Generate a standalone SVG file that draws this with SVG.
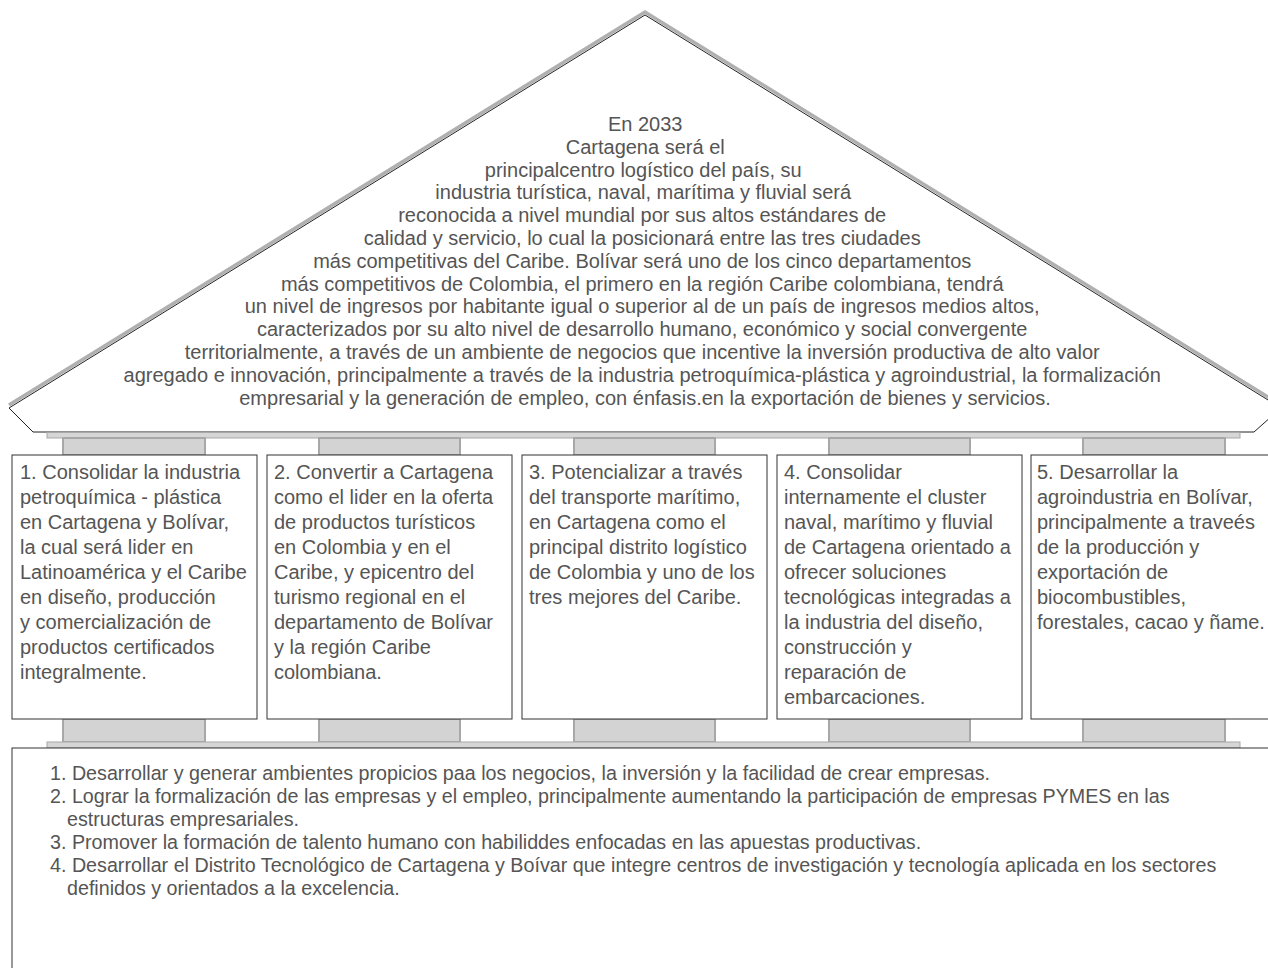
<svg xmlns="http://www.w3.org/2000/svg" width="1268" height="968" viewBox="0 0 1268 968">
<style>
.t{font-family:"Liberation Sans",Arial,sans-serif;fill:#555}
.roof{font-size:20px;text-anchor:middle}
.box{font-size:20px}
.bot{font-size:19.7px}
.cap{fill:#d3d3d3;stroke:#a8a8a8;stroke-width:2}
.band{fill:#d6d6d6;stroke:#a8a8a8;stroke-width:1}
.panel{fill:#fff;stroke:#333;stroke-width:1}
</style>
<rect width="1268" height="968" fill="#fff"/>
<g id="roof">
<polyline points="9,405 645,12 1281,405" fill="none" stroke="#b0b0b0" stroke-width="3.5"/>
<polygon points="645,15 9,408 33,432 1254,432 1281,408" fill="#fff" stroke="#222" stroke-width="1"/>
<rect class="band" x="47" y="432.5" width="1193" height="5.5"/>
<text class="t roof">
<tspan x="648" y="131">En 2033</tspan>
<tspan x="648" y="153.8">Cartagena será el</tspan>
<tspan x="646" y="176.6">principalcentro logístico del país, su</tspan>
<tspan x="646" y="199.4">industria turística, naval, marítima y fluvial será</tspan>
<tspan x="645" y="222.2">reconocida a nivel mundial por sus altos estándares de</tspan>
<tspan x="645" y="245">calidad y servicio, lo cual la posicionará entre las tres ciudades</tspan>
<tspan x="645" y="267.8">más competitivas del Caribe. Bolívar será uno de los cinco departamentos</tspan>
<tspan x="645" y="290.6">más competitivos de Colombia, el primero en la región Caribe colombiana, tendrá</tspan>
<tspan x="645" y="313.4">un nivel de ingresos por habitante igual o superior al de un país de ingresos medios altos,</tspan>
<tspan x="645" y="336.2">caracterizados por su alto nivel de desarrollo humano, económico y social convergente</tspan>
<tspan x="645" y="359">territorialmente, a través de un ambiente de negocios que incentive la inversión productiva de alto valor</tspan>
<tspan x="645" y="381.8">agregado e innovación, principalmente a través de la industria petroquímica-plástica y agroindustrial, la formalización</tspan>
<tspan x="645" y="404.6">empresarial y la generación de empleo, con énfasis.en la exportación de bienes y servicios.</tspan>
</text>
</g>
<g id="caps">
<rect class="cap" x="63" y="438" width="142" height="17"/>
<rect class="cap" x="319" y="438" width="141" height="17"/>
<rect class="cap" x="574" y="438" width="141" height="17"/>
<rect class="cap" x="829" y="438" width="141" height="17"/>
<rect class="cap" x="1083" y="438" width="142" height="17"/>
<rect class="cap" x="63" y="719" width="142" height="23"/>
<rect class="cap" x="319" y="719" width="141" height="23"/>
<rect class="cap" x="574" y="719" width="141" height="23"/>
<rect class="cap" x="829" y="719" width="141" height="23"/>
<rect class="cap" x="1083" y="719" width="142" height="23"/>
<rect class="band" x="47" y="742" width="1193" height="6"/>
</g>
<g id="pillar1">
<rect class="panel" x="12" y="455" width="245" height="264"/>
<text class="t box">
<tspan x="20" y="479">1. Consolidar la industria</tspan>
<tspan x="20" y="504">petroquímica - plástica</tspan>
<tspan x="20" y="529">en Cartagena y Bolívar,</tspan>
<tspan x="20" y="554">la cual será lider en</tspan>
<tspan x="20" y="579">Latinoamérica y el Caribe</tspan>
<tspan x="20" y="604">en diseño, producción</tspan>
<tspan x="20" y="629">y comercialización de</tspan>
<tspan x="20" y="654">productos certificados</tspan>
<tspan x="20" y="679">integralmente.</tspan>
</text>
</g>
<g id="pillar2">
<rect class="panel" x="267" y="455" width="245" height="264"/>
<text class="t box">
<tspan x="274" y="479">2. Convertir a Cartagena</tspan>
<tspan x="274" y="504">como el lider en la oferta</tspan>
<tspan x="274" y="529">de productos turísticos</tspan>
<tspan x="274" y="554">en Colombia y en el</tspan>
<tspan x="274" y="579">Caribe, y epicentro del</tspan>
<tspan x="274" y="604">turismo regional en el</tspan>
<tspan x="274" y="629">departamento de Bolívar</tspan>
<tspan x="274" y="654">y la región Caribe</tspan>
<tspan x="274" y="679">colombiana.</tspan>
</text>
</g>
<g id="pillar3">
<rect class="panel" x="522" y="455" width="245" height="264"/>
<text class="t box">
<tspan x="529" y="479">3. Potencializar a través</tspan>
<tspan x="529" y="504">del transporte marítimo,</tspan>
<tspan x="529" y="529">en Cartagena como el</tspan>
<tspan x="529" y="554">principal distrito logístico</tspan>
<tspan x="529" y="579">de Colombia y uno de los</tspan>
<tspan x="529" y="604">tres mejores del Caribe.</tspan>
</text>
</g>
<g id="pillar4">
<rect class="panel" x="777" y="455" width="245" height="264"/>
<text class="t box">
<tspan x="784" y="479">4. Consolidar</tspan>
<tspan x="784" y="504">internamente el cluster</tspan>
<tspan x="784" y="529">naval, marítimo y fluvial</tspan>
<tspan x="784" y="554">de Cartagena orientado a</tspan>
<tspan x="784" y="579">ofrecer soluciones</tspan>
<tspan x="784" y="604">tecnológicas integradas a</tspan>
<tspan x="784" y="629">la industria del diseño,</tspan>
<tspan x="784" y="654">construcción y</tspan>
<tspan x="784" y="679">reparación de</tspan>
<tspan x="784" y="704">embarcaciones.</tspan>
</text>
</g>
<g id="pillar5">
<rect class="panel" x="1031" y="455" width="245" height="264"/>
<text class="t box">
<tspan x="1037" y="479">5. Desarrollar la</tspan>
<tspan x="1037" y="504">agroindustria en Bolívar,</tspan>
<tspan x="1037" y="529">principalmente a traveés</tspan>
<tspan x="1037" y="554">de la producción y</tspan>
<tspan x="1037" y="579">exportación de</tspan>
<tspan x="1037" y="604">biocombustibles,</tspan>
<tspan x="1037" y="629">forestales, cacao y ñame.</tspan>
</text>
</g>
<g id="base">
<rect class="panel" x="12" y="748" width="1300" height="300"/>
<text class="t bot">
<tspan x="50" y="780">1. Desarrollar y generar ambientes propicios paa los negocios, la inversión y la facilidad de crear empresas.</tspan>
<tspan x="50" y="803">2. Lograr la formalización de las empresas y el empleo, principalmente aumentando la participación de empresas PYMES en las</tspan>
<tspan x="67" y="826">estructuras empresariales.</tspan>
<tspan x="50" y="849">3. Promover la formación de talento humano con habiliddes enfocadas en las apuestas productivas.</tspan>
<tspan x="50" y="872">4. Desarrollar el Distrito Tecnológico de Cartagena y Boívar que integre centros de investigación y tecnología aplicada en los sectores</tspan>
<tspan x="67" y="895">definidos y orientados a la excelencia.</tspan>
</text>
</g>
<g id="connectors"/>
</svg>
